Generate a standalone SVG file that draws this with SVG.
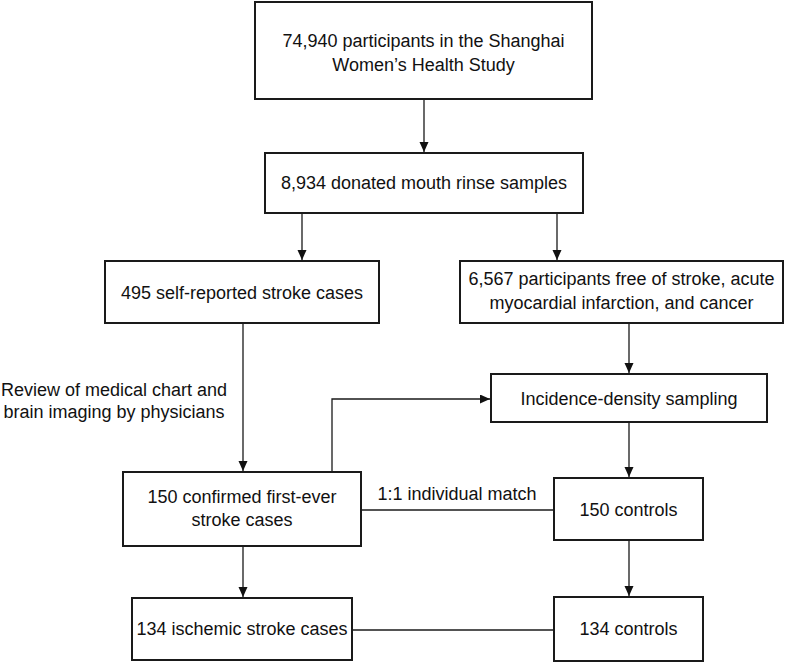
<svg xmlns="http://www.w3.org/2000/svg" width="800" height="663" viewBox="0 0 800 663">
<defs>
<style>
.box{fill:#fff;stroke:#1a1a1a;stroke-width:2}
.t{font-family:"Liberation Sans",Arial,sans-serif;font-size:18px;fill:#111;text-anchor:middle}
.c{fill:none;stroke:#1a1a1a;stroke-width:1.3}
</style>
<marker id="ah" markerUnits="userSpaceOnUse" markerWidth="11" markerHeight="10" refX="10" refY="4.5" orient="auto">
<path d="M0,0 L10,4.5 L0,9 z" fill="#111"/>
</marker>
</defs>
<rect width="800" height="663" fill="#fff"/>
<g id="connectors">
<line class="c" x1="424" y1="99" x2="424" y2="152" marker-end="url(#ah)"/>
<line class="c" x1="302" y1="213" x2="302" y2="260" marker-end="url(#ah)"/>
<line class="c" x1="557" y1="213" x2="557" y2="260" marker-end="url(#ah)"/>
<line class="c" x1="243" y1="323" x2="243" y2="471" marker-end="url(#ah)"/>
<line class="c" x1="629" y1="323" x2="629" y2="373" marker-end="url(#ah)"/>
<path class="c" d="M332,472 L332,399 L490,399" marker-end="url(#ah)"/>
<line class="c" x1="629" y1="422" x2="629" y2="477" marker-end="url(#ah)"/>
<line class="c" x1="361" y1="510" x2="554" y2="510"/>
<line class="c" x1="243" y1="546" x2="243" y2="597" marker-end="url(#ah)"/>
<line class="c" x1="629" y1="540" x2="629" y2="596" marker-end="url(#ah)"/>
<line class="c" x1="352" y1="630" x2="554" y2="630"/>
<text class="t" x="114" y="396">Review of medical chart and</text>
<text class="t" x="114" y="418">brain imaging by physicians</text>
<text class="t" x="457" y="500">1:1 individual match</text>
</g>
<g id="n1"><rect class="box" x="255" y="2" width="337" height="97"/>
<text class="t" x="423.5" y="47">74,940 participants in the Shanghai</text>
<text class="t" x="423.5" y="71">Women’s Health Study</text></g>
<g id="n2"><rect class="box" x="265" y="153" width="318" height="60"/>
<text class="t" x="424" y="189">8,934 donated mouth rinse samples</text></g>
<g id="n3"><rect class="box" x="105" y="261" width="274" height="62"/>
<text class="t" x="242" y="299">495 self-reported stroke cases</text></g>
<g id="n4"><rect class="box" x="460" y="261" width="323" height="62"/>
<text class="t" x="621.5" y="285">6,567 participants free of stroke, acute</text>
<text class="t" x="621.5" y="309">myocardial infarction, and cancer</text></g>
<g id="n5"><rect class="box" x="491" y="374" width="276" height="48"/>
<text class="t" x="629" y="405">Incidence-density sampling</text></g>
<g id="n6"><rect class="box" x="123" y="472" width="238" height="74"/>
<text class="t" x="242" y="503">150 confirmed first-ever</text>
<text class="t" x="242" y="526">stroke cases</text></g>
<g id="n7"><rect class="box" x="554" y="478" width="149" height="62"/>
<text class="t" x="628.5" y="516">150 controls</text></g>
<g id="n8"><rect class="box" x="132" y="598" width="220" height="62"/>
<text class="t" x="242" y="635">134 ischemic stroke cases</text></g>
<g id="n9"><rect class="box" x="554" y="597" width="149" height="64"/>
<text class="t" x="628.5" y="635">134 controls</text></g>
</svg>
